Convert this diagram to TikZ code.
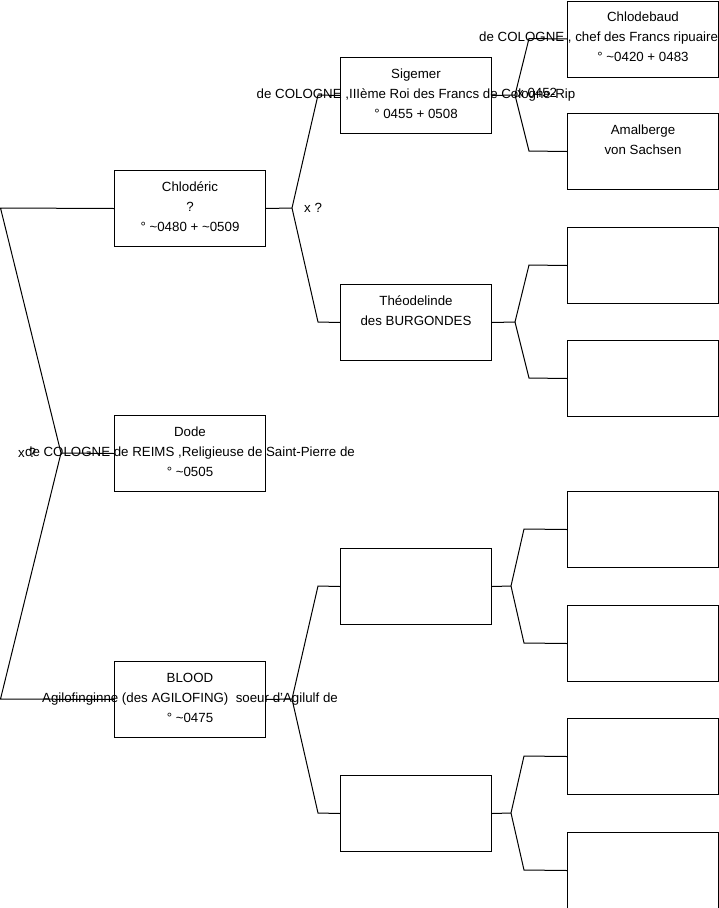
\documentclass[tikz,border=0pt]{standalone}
\usepackage{fontspec}
\setmainfont{Liberation Sans}
\begin{document}
\begin{tikzpicture}[x=1pt,y=-1pt,
  box/.style={draw=black, line width=1pt, minimum width=151pt, minimum height=76pt, inner sep=0pt, anchor=north west},
  txt/.style={anchor=north, inner sep=0pt, align=center, font=\fontsize{13.3}{20}\selectfont},
  link/.style={draw=black, line width=1pt},
  lbl/.style={anchor=west, inner sep=0pt, font=\fontsize{13.3}{15}\selectfont}]
\useasboundingbox (0,0) rectangle (719,908);
% generation 1
\node[box] (chl) at (114,170) {};
\node[box] (dode) at (114,415) {};
\node[box] (blood) at (114,661) {};
% generation 2
\node[box] (sig) at (340,57) {};
\node[box] (theo) at (340,284) {};
\node[box] (gc) at (340,548) {};
\node[box] (gd) at (340,775) {};
% generation 3
\node[box] (chlb) at (567,0.5) {};
\node[box] (amal) at (567,113) {};
\node[box] (hc) at (567,227) {};
\node[box] (hd) at (567,340) {};
\node[box] (he) at (567,491) {};
\node[box] (hf) at (567,605) {};
\node[box] (hg) at (567,718) {};
\node[box] (hh) at (567,832) {};
% connectors
\coordinate (r1) at (0.5,208);
\coordinate (r2) at (0.5,699);
\coordinate (v0) at (61,453);
\draw[link] (chl.west) -- (r1) -- (v0) -- (r2) -- (blood.west);
\draw[link] (v0) -- (dode.west);
\coordinate (v1) at (292,208);
\coordinate (a1) at (318,95);
\coordinate (a2) at (318,322);
\draw[link] (chl.east) -- (v1) -- (a1) -- (sig.west);
\draw[link] (v1) -- (a2) -- (theo.west);
\coordinate (v4) at (292,699);
\coordinate (a3) at (318,586);
\coordinate (a4) at (318,813);
\draw[link] (blood.east) -- (v4) -- (a3) -- (gc.west);
\draw[link] (v4) -- (a4) -- (gd.west);
\coordinate (v2) at (515,95);
\coordinate (b1) at (529,38.5);
\coordinate (b2) at (529,151);
\draw[link] (sig.east) -- (v2) -- (b1) -- (chlb.west);
\draw[link] (v2) -- (b2) -- (amal.west);
\coordinate (v3) at (515,322);
\coordinate (b3) at (529,265);
\coordinate (b4) at (529,378);
\draw[link] (theo.east) -- (v3) -- (b3) -- (hc.west);
\draw[link] (v3) -- (b4) -- (hd.west);
\coordinate (v5) at (511,586);
\coordinate (b5) at (524,529);
\coordinate (b6) at (524,643);
\draw[link] (gc.east) -- (v5) -- (b5) -- (he.west);
\draw[link] (v5) -- (b6) -- (hf.west);
\coordinate (v6) at (511,813);
\coordinate (b7) at (524,756);
\coordinate (b8) at (524,870);
\draw[link] (gd.east) -- (v6) -- (b7) -- (hg.west);
\draw[link] (v6) -- (b8) -- (hh.west);
% texts
\node[txt] (tchl) at ([yshift=-6.8pt]chl.north) {\strut Chlodéric\\\strut ?\\\strut ° \textasciitilde0480 + \textasciitilde0509};
\node[txt] (tdode) at ([yshift=-6.8pt]dode.north) {\strut Dode\\\strut de COLOGNE de REIMS ,Religieuse de Saint-Pierre de\\\strut ° \textasciitilde0505};
\node[txt] (tblood) at ([yshift=-6.8pt]blood.north) {\strut BLOOD\\\strut Agilofinginne (des AGILOFING)\ \ soeur d'Agilulf de\\\strut ° \textasciitilde0475};
\node[txt] (tsig) at ([yshift=-6.8pt]sig.north) {\strut Sigemer\\\strut de COLOGNE ,IIIème Roi des Francs de Cologne-Rip\\\strut ° 0455 + 0508};
\node[txt] (ttheo) at ([yshift=-6.8pt]theo.north) {\strut Théodelinde\\\strut des BURGONDES};
\node[txt] (tchlb) at ([yshift=-6.8pt]chlb.north) {\strut Chlodebaud\\\strut\makebox[150pt][r]{de COLOGNE , chef des Francs ripuaire}\\\strut ° \textasciitilde0420 + 0483};
\node[txt] (tamal) at ([yshift=-6.8pt]amal.north) {\strut Amalberge\\\strut von Sachsen};
% marriage labels
\node[lbl] (m0) at (18,453) {x ?};
\node[lbl] (m1) at (304,208) {x ?};
\node[lbl] (m2) at (517,93) {x 0452};
\end{tikzpicture}
\end{document}
